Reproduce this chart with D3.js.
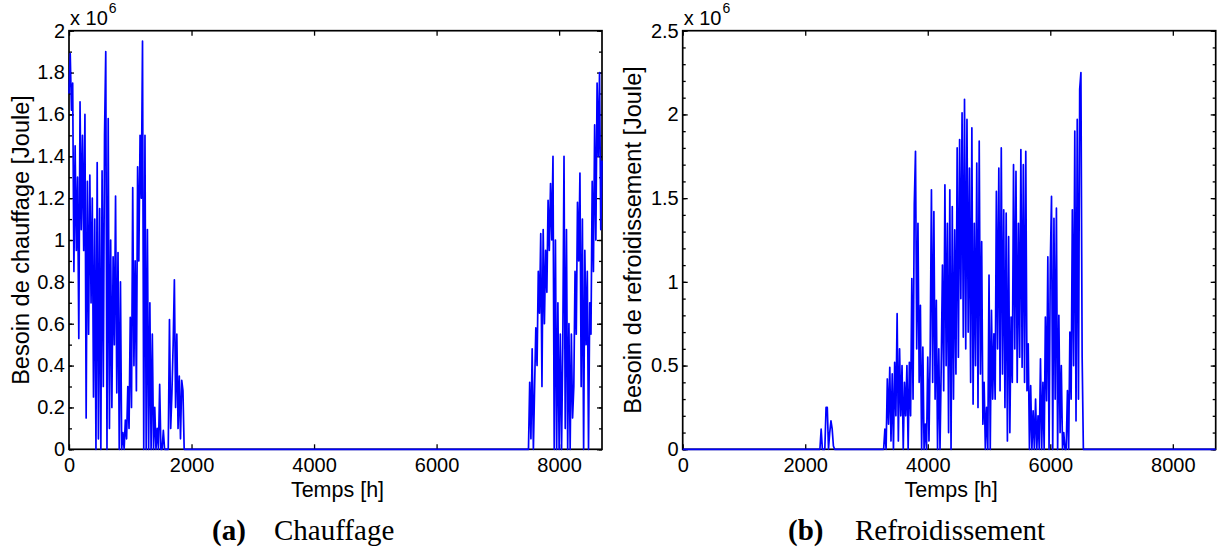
<!DOCTYPE html>
<html><head><meta charset="utf-8">
<script src="https://cdn.jsdelivr.net/npm/d3@7"></script>
<style>body{margin:0;background:#fff} svg{display:block}</style>
</head><body><svg id="c" width="1225" height="560"></svg>
<script>
// ---- data (values in 10^6 Joule, sampled every STEP hours) ----
const STEP = 20;
const X_MAX = 8700;
const xTicks = [0, 2000, 4000, 6000, 8000];
const heatYTicks = [0, 0.2, 0.4, 0.6, 0.8, 1, 1.2, 1.4, 1.6, 1.8, 2];
const coolYTicks = [0, 0.5, 1, 1.5, 2, 2.5];

const heatJanStart = 0;
const heatJan = [
  1.70,1.89,1.62,1.75,0.85,1.45,0.95,1.30,0.53,1.66,
  1.05,1.50,0.95,1.60,0.15,1.28,0.55,1.31,0.70,1.20,
  0.25,1.10,0.00,1.37,0.05,1.15,0.00,1.33,0.30,1.50,
  1.90,0.00,1.58,0.10,1.00,0.20,0.92,0.50,1.21,0.27,
  0.94,0.00,0.80,0.00,0.08,0.00,0.14,0.05,0.30,0.10,
  0.63,0.20,1.25,0.40,0.90,0.28,1.35,0.90,1.50,1.20,
  1.95,0.00,1.50,0.00,1.05,0.00,0.70,0.00,0.55,0.00,
  0.20,0.00,0.10,0.00,0.31,0.00,0.00,0.09,0.00,0.00,
  0.00,0.00,0.62,0.10,0.27,0.50,0.81,0.20,0.55,0.10,
  0.35,0.05,0.33,0.28,0.00
];
const heatDecStart = 7500;
const heatDec = [
  0.00,0.32,0.05,0.48,0.00,0.30,0.58,0.40,0.85,0.65,
  1.03,0.30,1.05,0.60,0.95,0.75,1.19,0.95,1.27,1.00,
  1.40,0.00,1.00,0.00,0.70,0.00,0.55,0.00,0.50,1.40,
  0.10,1.05,0.00,0.60,0.00,0.55,0.15,0.30,0.85,0.55,
  1.18,0.90,1.32,0.30,1.10,0.00,0.95,0.50,0.85,0.00,
  0.70,0.55,1.28,0.85,1.55,1.00,1.75,1.40,1.80,1.05,
  1.38
];
const coolSpringStart = 2240;
const coolSpring = [0.00,0.12,0.00,0.00,0.00,0.25,0.25,0.00,0.10,0.17,0.12,0.02,0.00];
const coolSummerStart = 3280;
const coolSummer = [
  0.00,0.12,0.00,0.42,0.15,0.49,0.05,0.45,0.00,0.52,
  0.20,0.81,0.05,0.60,0.20,0.50,0.00,0.40,0.20,0.50,
  0.00,0.52,0.20,1.02,0.30,1.46,1.78,0.60,1.35,0.40,
  0.86,0.00,0.61,0.00,0.15,0.00,0.55,0.05,0.60,1.55,
  0.40,1.42,0.30,0.89,0.00,0.60,0.00,0.50,1.10,0.35,
  1.58,0.50,1.35,0.10,1.55,0.00,1.45,0.30,1.31,0.45,
  1.80,0.55,1.85,0.90,2.01,0.67,2.09,0.60,1.97,0.70,
  1.68,0.40,1.92,0.27,1.35,0.50,1.71,0.25,1.84,0.45,
  1.24,0.15,0.40,0.00,0.25,0.00,1.04,0.00,0.83,0.30,
  0.69,0.30,1.54,0.60,1.68,0.35,1.80,0.45,1.43,0.25,
  1.41,0.05,1.27,0.10,0.79,0.40,1.70,0.60,1.66,0.40,
  1.35,0.55,1.79,0.49,1.70,0.40,1.78,0.35,0.63,0.00,
  0.38,0.00,0.23,0.00,0.30,0.00,0.20,0.00,0.54,0.00,
  0.40,0.00,0.79,0.29,1.15,0.00,1.10,1.51,0.00,1.38,
  0.30,1.44,0.00,0.80,0.10,0.50,0.00,0.10,0.00,0.00,
  0.35,0.00,0.70,0.30,1.43,0.50,1.90,0.17,1.97,0.30,
  2.15,2.25,0.55,0.00
];

// ---- helpers ----
function seg(start, vals) { return vals.map((v, i) => [start + i * STEP, v]); }
function series(segs) {
  const pts = []; let last = 0;
  segs.forEach(s => {
    if (s[0][0] > last) { pts.push([last, 0], [s[0][0], 0]); }
    s.forEach(p => pts.push(p));
    last = s[s.length - 1][0];
  });
  if (last < X_MAX) pts.push([last, 0], [X_MAX, 0]);
  return pts;
}
const heatSeries = series([seg(heatJanStart, heatJan), seg(heatDecStart, heatDec)]);
const coolSeries = series([seg(coolSpringStart, coolSpring), seg(coolSummerStart, coolSummer)]);

const svg = d3.select('#c');
const SANS = '"Liberation Sans", Arial, Helvetica, sans-serif';
const SERIF = '"Liberation Serif", "Times New Roman", serif';
const Y_TOP = 30.7, Y_BOT = 449.3;
const fmt = d => String(+(+d).toFixed(1));

function panel(cfg) {
  const g = svg.append('g');
  const x = d3.scaleLinear().domain([0, X_MAX]).range([cfg.x0, cfg.x1]);
  const y = d3.scaleLinear().domain([0, cfg.yMax]).range([Y_BOT, Y_TOP]);
  const minor = d3.range(0, Math.round(cfg.yMax * 10) + 1).map(i => i / 10);

  const style = sel => {
    sel.select('.domain').remove();
    sel.attr('font-family', SANS).attr('font-size', 20);
    sel.selectAll('line').attr('stroke', '#000').attr('stroke-width', 1.3);
    sel.selectAll('text').attr('fill', '#000');
  };
  g.append('g').attr('transform', `translate(${cfg.x0},0)`)
    .call(d3.axisLeft(y).tickValues(minor).tickSize(-3).tickFormat('')).call(style);
  g.append('g').attr('transform', `translate(${cfg.x1},0)`)
    .call(d3.axisRight(y).tickValues(minor).tickSize(-3).tickFormat('')).call(style);
  g.append('g').attr('transform', `translate(${cfg.x0},0)`)
    .call(d3.axisLeft(y).tickValues(cfg.yTicks).tickSize(-5).tickPadding(4).tickFormat(fmt)).call(style);
  g.append('g').attr('transform', `translate(${cfg.x1},0)`)
    .call(d3.axisRight(y).tickValues(cfg.yTicks).tickSize(-5).tickFormat('')).call(style);
  g.append('g').attr('transform', `translate(0,${Y_BOT})`)
    .call(d3.axisBottom(x).tickValues(xTicks).tickSize(-5).tickPadding(9).tickFormat(d3.format('d'))).call(style);
  g.append('g').attr('transform', `translate(0,${Y_TOP})`)
    .call(d3.axisTop(x).tickValues(xTicks).tickSize(-5).tickFormat('')).call(style);

  g.append('rect').attr('x', cfg.x0).attr('y', Y_TOP)
    .attr('width', cfg.x1 - cfg.x0).attr('height', Y_BOT - Y_TOP)
    .attr('fill', 'none').attr('stroke', '#000').attr('stroke-width', 1.7);

  g.append('path').datum(cfg.data)
    .attr('d', d3.line().x(d => x(d[0])).y(d => y(d[1])))
    .attr('fill', 'none').attr('stroke', '#0000ff').attr('stroke-width', 1.7)
    .attr('stroke-linejoin', 'round');

  // exponent
  const ex = g.append('text').attr('x', cfg.x0 + 1).attr('y', 25)
    .attr('font-family', SANS).attr('font-size', 20).attr('fill', '#000');
  ex.append('tspan').text('x 10');
  ex.append('tspan').attr('font-size', 14).attr('dy', -12).attr('dx', 1).text('6');

  // y label
  g.append('text').attr('transform', `translate(${cfg.ylx},${(Y_TOP + Y_BOT) / 2}) rotate(-90)`)
    .attr('text-anchor', 'middle').attr('dominant-baseline', 'central')
    .attr('font-family', SANS).attr('font-size', 23.5).attr('fill', '#000').text(cfg.ylabel);
  // x label
  g.append('text').attr('x', (cfg.x0 + cfg.x1) / 2 + 2).attr('y', 497)
    .attr('text-anchor', 'middle').attr('font-family', SANS).attr('font-size', 21.5)
    .attr('fill', '#000').text('Temps [h]');
  // caption
  const cap = g.append('text').attr('y', 540).attr('font-family', SERIF).attr('font-size', 29).attr('fill', '#000');
  cap.append('tspan').attr('x', cfg.capX).attr('font-weight', 'bold').text(cfg.capTag);
  cap.append('tspan').attr('x', cfg.capX2).text(cfg.caption);
}

panel({ x0: 69, x1: 602, yMax: 2, yTicks: heatYTicks, data: heatSeries, ylx: 21,
  ylabel: 'Besoin de chauffage [Joule]', capTag: '(a)', caption: 'Chauffage', capX: 212, capX2: 274 });
panel({ x0: 682.7, x1: 1215.7, yMax: 2.5, yTicks: coolYTicks, data: coolSeries, ylx: 633,
  ylabel: 'Besoin de refroidissement [Joule]', capTag: '(b)', caption: 'Refroidissement', capX: 788, capX2: 855 });
</script></body></html>
